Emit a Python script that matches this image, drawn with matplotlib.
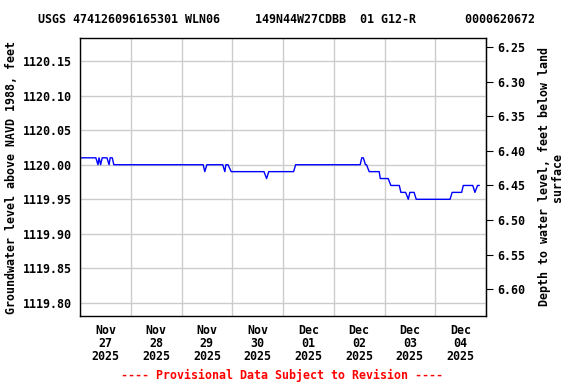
import pandas as pd
import matplotlib
matplotlib.use("Agg")
import matplotlib.pyplot as plt
import matplotlib.dates as mdates

# ===== DATA =====
start = pd.Timestamp("2025-11-27 00:00")
hours = [0, 7.5, 8.5, 9.0, 9.75, 10.5, 12.75, 13.75, 14.25, 15.25, 16.0,
         58.25, 59.0, 60.0, 67.5, 68.5, 69.0, 70.0, 71.5, 87.0, 88.25, 89.25,
         101.0, 102.0, 132.5, 133.25, 134.0, 135.0, 135.5, 136.75, 141.5, 142.0,
         145.75, 147.0, 151.0, 151.75, 154.0, 155.25, 156.0, 158.0, 159.0,
         175.0, 176.0, 180.5, 181.25, 185.75, 186.75, 188.0, 188.75]
elev = [1120.01, 1120.01, 1120.00, 1120.01, 1120.00, 1120.01, 1120.01, 1120.00, 1120.01, 1120.01, 1120.00,
        1120.00, 1119.99, 1120.00, 1120.00, 1119.99, 1120.00, 1120.00, 1119.99, 1119.99, 1119.98, 1119.99,
        1119.99, 1120.00, 1120.00, 1120.01, 1120.01, 1120.00, 1120.00, 1119.99, 1119.99, 1119.98,
        1119.98, 1119.97, 1119.97, 1119.96, 1119.96, 1119.95, 1119.96, 1119.96, 1119.95,
        1119.95, 1119.96, 1119.96, 1119.97, 1119.97, 1119.96, 1119.97, 1119.97]
land_surface = 1126.42   # elevation of land surface, feet
left_ticks = [1119.80, 1119.85, 1119.90, 1119.95, 1120.00, 1120.05, 1120.10, 1120.15]
right_ticks = [6.25, 6.30, 6.35, 6.40, 6.45, 6.50, 6.55, 6.60]
title = "USGS 474126096165301 WLN06     149N44W27CDBB  01 G12-R       0000620672"
footer = "---- Provisional Data Subject to Revision ----"

times = [start + pd.Timedelta(hours=h) for h in hours]

# ===== PLOT =====
plt.rcParams["font.family"] = "DejaVu Sans Mono"
plt.rcParams["font.weight"] = "bold"
fs = 8.4

fig = plt.figure(figsize=(5.76, 3.84), dpi=100)
ax = fig.add_axes([80/576, 1-316/384, 406/576, 278/384])

ax.plot(times, elev, color="#0000ff", lw=1)

ax.set_xlim(start, start + pd.Timedelta(days=8))
ax.set_ylim(1119.7812, 1120.1833)
ax.set_yticks(left_ticks)
ax.set_yticklabels([f"{v:.2f}" for v in left_ticks], fontsize=fs, fontweight="bold")
ax.tick_params(axis="y", length=0, pad=6)

# gridlines at midnight, labels at noon
ax.xaxis.set_major_locator(mdates.DayLocator())
ax.xaxis.set_major_formatter(plt.NullFormatter())
ax.xaxis.set_minor_locator(mdates.HourLocator(byhour=[12]))
ax.xaxis.set_minor_formatter(mdates.DateFormatter("%b\n%d\n%Y"))
ax.tick_params(axis="x", which="major", length=0)
ax.tick_params(axis="x", which="minor", length=0, pad=6, labelsize=fs)
for lbl in ax.xaxis.get_minorticklabels():
    lbl.set_fontweight("bold")
    lbl.set_linespacing(1.0)

ax.grid(True, which="major", color="#cccccc", lw=1)
ax.set_axisbelow(True)
for s in ax.spines.values():
    s.set_linewidth(1)

ax.set_ylabel("Groundwater level above NAVD 1988, feet", fontsize=fs, fontweight="bold", labelpad=3)

sec = ax.secondary_yaxis("right", functions=(lambda e: land_surface - e, lambda d: land_surface - d))
sec.set_yticks(right_ticks)
sec.set_yticklabels([f"{v:.2f}" for v in right_ticks], fontsize=fs, fontweight="bold")
sec.tick_params(axis="y", length=5, pad=3)
sec.set_ylabel("Depth to water level, feet below land\nsurface", fontsize=fs, fontweight="bold",
               multialignment="center", linespacing=1.05, labelpad=9)

fig.text(0.497, 0.948, title, ha="center", va="center", fontsize=fs, fontweight="bold")
fig.text(0.49, 0.023, footer, ha="center", va="center", fontsize=fs, fontweight="bold", color="red")

fig.savefig("out.png", dpi=100)
